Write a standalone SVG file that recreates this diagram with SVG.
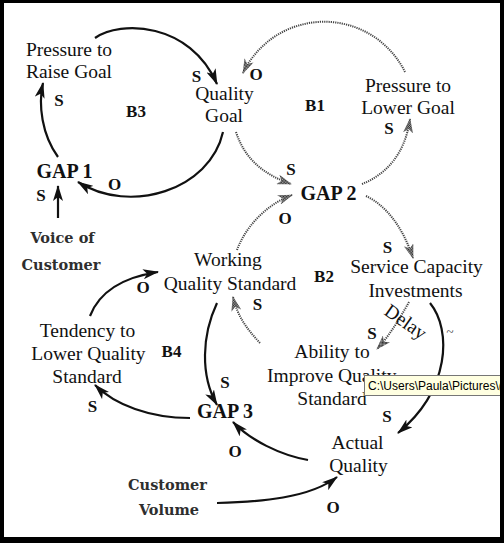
<svg xmlns="http://www.w3.org/2000/svg" width="504" height="543" viewBox="0 0 504 543">
<style>
.n{font-family:"Liberation Serif","Times New Roman",serif;font-size:19.5px;fill:#111;text-anchor:middle}
.g{font-family:"Liberation Serif","Times New Roman",serif;font-size:20px;font-weight:bold;fill:#111;text-anchor:middle}
.b{font-family:"Liberation Serif","Times New Roman",serif;font-size:17px;font-weight:bold;fill:#111;text-anchor:middle}
.p{font-family:"Liberation Serif","Times New Roman",serif;font-size:17px;font-weight:bold;fill:#111;text-anchor:middle}
.x{font-family:"DejaVu Serif",serif;font-size:14.5px;font-weight:bold;fill:#2e2e2e;text-anchor:middle}
.k{fill:none;stroke:#111;stroke-width:2.2;marker-end:url(#ak)}
.d{fill:none;stroke:#444;stroke-width:2;stroke-dasharray:1.2 1;marker-end:url(#ad)}
</style>
<defs>
<pattern id="stip" patternUnits="userSpaceOnUse" width="2" height="2">
<rect width="2" height="2" fill="#aaa"/>
<rect width="1" height="1" fill="#222"/>
<rect x="1" y="1" width="1" height="1" fill="#222"/>
</pattern>
<marker id="ak" viewBox="0 0 16 10" refX="15" refY="5" markerWidth="16" markerHeight="10" markerUnits="userSpaceOnUse" orient="auto">
<path d="M0,0 L16,5 L0,10 L4,5 z" fill="#111"/>
</marker>
<marker id="ad" viewBox="0 0 15 10" refX="14" refY="5" markerWidth="15" markerHeight="10" markerUnits="userSpaceOnUse" orient="auto">
<path d="M0,0 L15,5 L0,10 L4,5 z" fill="url(#stip)"/>
</marker>
<clipPath id="clipImp"><rect x="250" y="360" width="114" height="30"/></clipPath>
</defs>
<rect x="0" y="0" width="504" height="543" fill="#fff"/>

<g id="connectors">
<!-- B3 loop -->
<path class="k" d="M95,38 C120,20 190,22 217,84"/>
<text class="p" x="196.5" y="82">S</text>
<path class="k" d="M223,132 C210,190 130,215 78,182"/>
<text class="p" x="114.5" y="190">O</text>
<path class="k" d="M58,157 C42,135 38,105 43,83"/>
<text class="p" x="59" y="106">S</text>
<path class="k" d="M58,218 L58,186"/>
<text class="p" x="41" y="201">S</text>
<!-- B1 loop -->
<path class="d" d="M405,72 A90,90 0 0 0 243,73"/>
<text class="p" x="256" y="80">O</text>
<path class="d" d="M236,132 C245,160 265,175 291,184"/>
<text class="p" x="291" y="175">S</text>
<path class="d" d="M362,184 C385,175 405,155 410,119"/>
<text class="p" x="389" y="134">S</text>
<!-- B2 loop -->
<path class="d" d="M237,250 C245,228 265,205 292,195"/>
<text class="p" x="285" y="224">O</text>
<path class="d" d="M366,196 C385,205 402,225 413,258"/>
<text class="p" x="387.5" y="253">S</text>
<path class="d" d="M409,302 C400,318 390,335 377,349"/>
<text class="p" x="372" y="339">S</text>
<text class="n" x="0" y="0" transform="translate(402,327) rotate(35)">Delay</text>
<path class="d" d="M260,343 C248,330 238,318 233,297"/>
<text class="p" x="257.5" y="310">S</text>
<!-- B4 loop -->
<path class="k" d="M217,303 C202,335 200,375 217,405"/>
<text class="p" x="225" y="388">S</text>
<path class="k" d="M190,418 C150,418 115,405 95,385"/>
<text class="p" x="92.5" y="412">S</text>
<path class="k" d="M90,316 C100,290 125,277 158,272"/>
<text class="p" x="143" y="293">O</text>
<path class="k" d="M308,460 C280,455 250,440 233,422"/>
<text class="p" x="235" y="457">O</text>
<path class="k" d="M217,503 C260,502 310,498 337,477"/>
<text class="p" x="333" y="513">O</text>
<path class="k" d="M430,303 C452,330 450,390 398,433"/>
<text class="p" x="387" y="422">S</text>
<text x="450" y="336" font-family="Liberation Serif,serif" font-size="13" fill="#333" text-anchor="middle">~</text>
</g>

<g id="pressure-raise-goal"><text class="n" x="69" y="56">Pressure to</text><text class="n" x="69" y="78">Raise Goal</text></g>
<g id="quality-goal"><text class="n" x="224.5" y="100">Quality</text><text class="n" x="224" y="122">Goal</text></g>
<g id="pressure-lower-goal"><text class="n" x="408" y="92">Pressure to</text><text class="n" x="408" y="114">Lower Goal</text></g>
<g id="gap1"><text class="g" x="64.5" y="178">GAP 1</text></g>
<g id="gap2"><text class="g" x="328.5" y="200">GAP 2</text></g>
<g id="gap3"><text class="g" x="225" y="418">GAP 3</text></g>
<g id="voice-of-customer"><text class="x" x="62.5" y="243">Voice of</text><text class="x" x="61" y="270">Customer</text></g>
<g id="working-quality-standard"><text class="n" x="228" y="266">Working</text><text class="n" x="230" y="290">Quality Standard</text></g>
<g id="service-capacity-investments"><text class="n" x="416.5" y="273">Service Capacity</text><text class="n" x="415.5" y="297">Investments</text></g>
<g id="tendency-lower-quality-standard"><text class="n" x="87.5" y="337">Tendency to</text><text class="n" x="88.5" y="360">Lower Quality</text><text class="n" x="87" y="383">Standard</text></g>
<g id="ability-improve-quality-standard"><text class="n" x="332" y="358">Ability to</text><text class="n" x="267" y="382" style="text-anchor:start">Improve Quality</text><text class="n" x="332" y="405">Standard</text></g>
<g id="actual-quality"><text class="n" x="357.5" y="449">Actual</text><text class="n" x="358.5" y="472">Quality</text></g>
<g id="customer-volume"><text class="x" x="167.5" y="490">Customer</text><text class="x" x="169" y="515">Volume</text></g>

<g id="loop-labels">
<text class="b" x="136" y="117">B3</text>
<text class="b" x="315" y="111">B1</text>
<text class="b" x="324" y="282">B2</text>
<text class="b" x="171.5" y="357">B4</text>
</g>

<g id="tooltip">
<rect x="364.5" y="375.5" width="140" height="20" fill="#ffffe1" stroke="#767676" stroke-width="1"/>
<text x="368" y="390" font-family="Liberation Sans,Arial,sans-serif" font-size="12" fill="#000">C:\Users\Paula\Pictures\(</text>
</g>

<path d="M0,0 H504 V543 H0 Z M4,3 V537 H500 V3 Z" fill="#000" fill-rule="evenodd"/>
</svg>
